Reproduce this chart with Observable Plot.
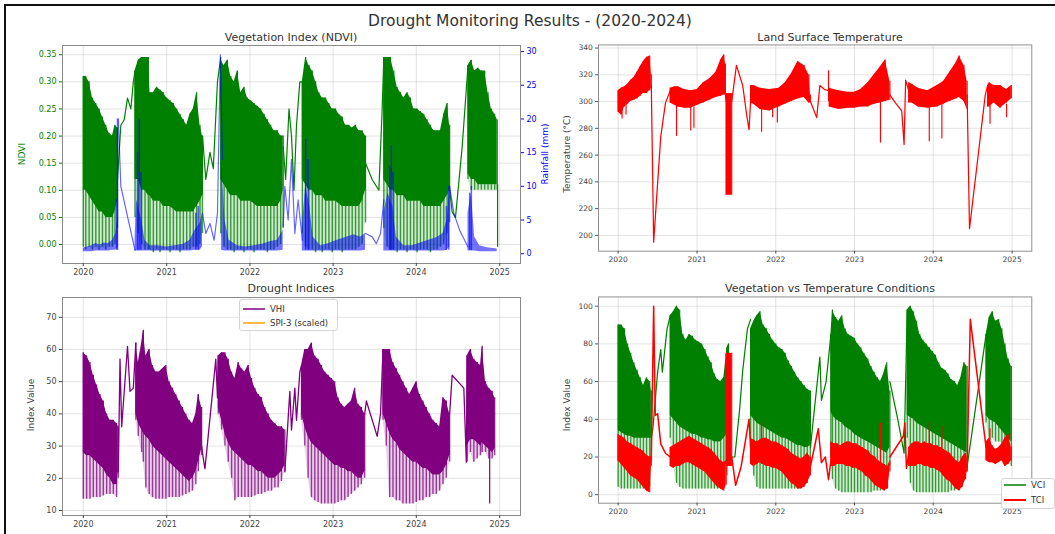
<!DOCTYPE html>
<html><head><meta charset="utf-8">
<script src="https://cdn.jsdelivr.net/npm/d3@7"></script>
<script src="https://cdn.jsdelivr.net/npm/@observablehq/plot@0.6"></script>
<style>
body{margin:0;background:#fff;}
#root{position:relative;width:1055px;height:534px;overflow:hidden;background:#fff;font-family:"DejaVu Sans",sans-serif;}
.abs{position:absolute;}
.title{position:absolute;transform:translate(-50%,-50%);white-space:nowrap;color:#333;}
.ylab{position:absolute;transform:translate(-50%,-50%) rotate(-90deg);white-space:nowrap;font-size:9px;color:#444;}
.leg{position:absolute;border:1px solid #d4d4d4;border-radius:3px;background:rgba(255,255,255,0.85);}
.legtxt{position:absolute;font-size:8.5px;color:#333;white-space:nowrap;transform:translateY(-50%);}
</style></head><body><div id="root"></div>
<script>
// ---------- tick labels ----------
const years = [2020, 2021, 2022, 2023, 2024, 2025];
const ndviTicks = [0, 0.05, 0.10, 0.15, 0.20, 0.25, 0.30, 0.35];
const rainTicks = [0, 5, 10, 15, 20, 25, 30];
const lstTicks = [200, 220, 240, 260, 280, 300, 320, 340];
const vhiTicks = [10, 20, 30, 40, 50, 60, 70];
const condTicks = [0, 20, 40, 60, 80, 100];

// ---------- NDVI: [year, spike floor, dense low, dense high] ----------
const ndviSegments = [
 [[2020.00,-0.005,0.10,0.31],[2020.03,-0.010,0.10,0.31],[2020.07,-0.005,0.09,0.30],[2020.11,-0.010,0.08,0.27],[2020.15,-0.005,0.07,0.26],[2020.19,-0.010,0.06,0.25],[2020.23,-0.005,0.06,0.235],[2020.27,-0.010,0.05,0.22],[2020.31,-0.005,0.05,0.205],[2020.35,-0.005,0.05,0.20],[2020.38,0.00,0.06,0.22],[2020.41,0.03,0.08,0.215]],
 [[2020.62,0.05,0.12,0.32],[2020.66,0.02,0.12,0.34],[2020.70,0.00,0.10,0.345],[2020.74,-0.010,0.10,0.345],[2020.78,-0.010,0.09,0.345],[2020.80,-0.010,0.09,0.28],[2020.84,-0.015,0.08,0.28],[2020.88,-0.010,0.08,0.29],[2020.92,-0.015,0.08,0.285],[2020.96,-0.010,0.07,0.28],[2021.00,-0.010,0.07,0.27],[2021.04,-0.015,0.07,0.265],[2021.08,-0.010,0.065,0.26],[2021.12,-0.010,0.06,0.25],[2021.16,-0.015,0.06,0.24],[2021.20,-0.010,0.06,0.23],[2021.24,-0.010,0.06,0.22],[2021.28,-0.010,0.06,0.24],[2021.32,-0.005,0.06,0.25],[2021.36,-0.005,0.07,0.28],[2021.40,0.00,0.08,0.22],[2021.43,0.02,0.09,0.20]],
 [[2021.65,0.02,0.12,0.34],[2021.69,-0.005,0.11,0.33],[2021.73,-0.010,0.10,0.34],[2021.77,-0.010,0.09,0.31],[2021.81,-0.015,0.09,0.30],[2021.85,-0.010,0.09,0.32],[2021.89,-0.010,0.08,0.28],[2021.93,-0.015,0.08,0.29],[2021.97,-0.010,0.08,0.27],[2022.01,-0.010,0.08,0.265],[2022.05,-0.015,0.075,0.26],[2022.09,-0.010,0.07,0.255],[2022.13,-0.010,0.07,0.25],[2022.17,-0.010,0.07,0.24],[2022.21,-0.015,0.07,0.23],[2022.25,-0.010,0.07,0.22],[2022.29,-0.010,0.07,0.21],[2022.33,-0.005,0.07,0.21],[2022.37,0.00,0.08,0.20],[2022.40,0.03,0.10,0.20]],
 [[2022.63,0.02,0.12,0.30],[2022.67,-0.005,0.11,0.345],[2022.71,-0.010,0.10,0.33],[2022.75,-0.010,0.10,0.32],[2022.79,-0.015,0.09,0.30],[2022.83,-0.010,0.09,0.28],[2022.87,-0.015,0.09,0.27],[2022.91,-0.010,0.08,0.27],[2022.95,-0.010,0.08,0.26],[2022.99,-0.015,0.08,0.25],[2023.03,-0.010,0.08,0.25],[2023.07,-0.010,0.075,0.24],[2023.11,-0.015,0.07,0.235],[2023.15,-0.010,0.07,0.22],[2023.19,-0.010,0.07,0.22],[2023.23,-0.010,0.07,0.215],[2023.27,-0.010,0.07,0.22],[2023.31,-0.005,0.07,0.21],[2023.35,0.00,0.08,0.21],[2023.39,0.04,0.10,0.20]],
 [[2023.61,0.03,0.12,0.345],[2023.65,-0.005,0.11,0.345],[2023.69,-0.010,0.10,0.345],[2023.73,-0.010,0.10,0.32],[2023.77,-0.015,0.09,0.29],[2023.81,-0.010,0.09,0.28],[2023.85,-0.010,0.09,0.27],[2023.89,-0.015,0.08,0.28],[2023.93,-0.010,0.08,0.27],[2023.97,-0.010,0.08,0.25],[2024.01,-0.015,0.08,0.25],[2024.05,-0.010,0.08,0.245],[2024.09,-0.010,0.07,0.24],[2024.13,-0.010,0.07,0.23],[2024.17,-0.015,0.07,0.22],[2024.21,-0.010,0.07,0.21],[2024.25,-0.010,0.07,0.21],[2024.29,-0.005,0.07,0.21],[2024.33,0.00,0.08,0.24],[2024.37,0.02,0.09,0.26],[2024.40,0.04,0.10,0.22]],
 [[2024.62,0.12,0.13,0.33],[2024.66,0.10,0.12,0.34],[2024.70,0.10,0.12,0.32],[2024.74,0.10,0.11,0.325],[2024.78,0.10,0.11,0.32],[2024.82,0.10,0.11,0.32],[2024.86,0.10,0.11,0.28],[2024.90,0.10,0.11,0.25],[2024.94,0.10,0.11,0.24],[2024.97,0.10,0.11,0.23]]
];
const ndviGaps = [
 [[2020.41,0.12],[2020.45,0.22],[2020.49,0.23],[2020.53,0.27],[2020.57,0.25],[2020.60,0.30],[2020.62,0.32]],
 [[2021.43,0.20],[2021.47,0.12],[2021.52,0.17],[2021.56,0.14],[2021.61,0.30],[2021.65,0.345]],
 [[2022.40,0.18],[2022.43,0.12],[2022.47,0.25],[2022.50,0.20],[2022.53,0.10],[2022.56,0.22],[2022.60,0.30],[2022.63,0.30]],
 [[2023.39,0.15],[2023.47,0.12],[2023.55,0.10],[2023.59,0.25],[2023.61,0.345]],
 [[2024.40,0.10],[2024.43,0.06],[2024.47,0.05],[2024.55,0.18],[2024.62,0.33]]
];
const ndviSpikes = [[2024.975,-0.005,0.11]];

// ---------- Rainfall (mm): [year, low, high] ----------
const rainSegments = [
 [[2020.00,0.3,0.8],[2020.05,0.3,1.0],[2020.10,0.3,1.2],[2020.15,0.4,1.5],[2020.20,0.4,1.3],[2020.25,0.4,1.6],[2020.30,0.4,1.5],[2020.35,0.5,2.0],[2020.39,0.5,3.0],[2020.42,1,6]],
 [[2020.62,0.4,2],[2020.64,0.4,8],[2020.70,0.4,5],[2020.74,0.4,2],[2020.80,0.4,1.2],[2020.90,0.4,1.2],[2021.00,0.4,1.0],[2021.10,0.4,1.2],[2021.20,0.4,1.4],[2021.28,0.4,2.0],[2021.34,0.5,3.5],[2021.40,0.5,4.5],[2021.43,1,6]],
 [[2021.66,0.5,14],[2021.70,0.4,5],[2021.75,0.4,2],[2021.85,0.4,1.2],[2021.95,0.4,1.0],[2022.05,0.4,1.2],[2022.15,0.4,1.4],[2022.25,0.4,1.8],[2022.33,0.4,2.0],[2022.40,0.5,3.5]],
 [[2022.63,0.4,4],[2022.67,0.4,10],[2022.72,0.4,7],[2022.76,0.4,2.5],[2022.85,0.4,1.2],[2022.95,0.4,1.5],[2023.05,0.4,2.0],[2023.15,0.4,2.4],[2023.25,0.4,2.8],[2023.33,0.4,2.5],[2023.39,0.5,3]],
 [[2023.61,0.4,6],[2023.66,0.4,9],[2023.72,0.4,7],[2023.76,0.4,2.5],[2023.85,0.4,1.2],[2023.95,0.4,1.2],[2024.05,0.4,1.6],[2024.15,0.4,2.0],[2024.25,0.4,2.4],[2024.32,0.4,3],[2024.37,0.5,5],[2024.40,1,10]],
 [[2024.62,0.4,6],[2024.66,0.4,9],[2024.70,0.4,2.5],[2024.76,0.3,1.2],[2024.85,0.3,0.9],[2024.97,0.3,0.7]]
];
const rainGaps = [
 [[2020.42,20],[2020.45,10],[2020.62,0.5]],
 [[2021.43,6],[2021.47,3],[2021.52,4.5],[2021.57,2],[2021.61,6],[2021.645,29.5],[2021.67,14]],
 [[2022.40,4],[2022.42,10],[2022.46,5],[2022.50,14],[2022.54,3],[2022.58,8],[2022.63,2]],
 [[2023.39,3],[2023.47,2.5],[2023.52,1.5],[2023.57,3],[2023.61,8]],
 [[2024.40,10],[2024.45,6],[2024.52,3.5],[2024.62,1]]
];
const rainSpikes = [[2020.40,0.5,8],[2020.41,0.5,20],[2020.65,0.5,15],[2020.67,0.5,20],[2020.69,0.5,12],[2021.35,0.5,6],[2021.38,0.5,7],[2022.67,0.5,17],[2022.70,0.5,14],[2023.68,0.5,13],[2023.70,0.5,16],[2023.72,0.5,12],[2024.36,0.5,7],[2024.39,0.5,10],[2024.64,0.5,9],[2024.66,0.5,10]];

// ---------- Land surface temperature: [year, low, high] ----------
const lstSegments = [
 [[2020.00,292,308],[2020.04,290,310],[2020.08,296,311],[2020.12,298,313],[2020.16,300,316],[2020.20,301,318],[2020.24,302,322],[2020.28,304,326],[2020.32,306,330],[2020.36,306,333],[2020.40,308,334],[2020.42,310,320]],
 [[2020.66,299,310],[2020.72,297,311],[2020.76,296,311],[2020.84,295,309],[2020.92,295,308],[2021.00,297,309],[2021.08,299,314],[2021.16,301,317],[2021.24,303,322],[2021.30,304,331],[2021.34,305,335],[2021.36,305,328]],
 [[2021.37,230,306],[2021.44,230,306]],
 [[2021.68,299,312],[2021.72,298,312],[2021.80,294,310],[2021.92,293,309],[2022.04,296,310],[2022.12,298,314],[2022.20,300,321],[2022.28,302,330],[2022.36,303,327],[2022.42,299,320],[2022.44,299,305]],
 [[2022.68,296,310],[2022.80,294,308],[2022.92,295,307],[2023.00,295,307],[2023.08,296,309],[2023.17,296,314],[2023.25,298,320],[2023.33,299,326],[2023.39,300,331],[2023.45,301,315]],
 [[2023.69,299,314],[2023.73,299,313],[2023.81,296,310],[2023.93,295,308],[2024.05,296,312],[2024.13,298,315],[2024.21,300,322],[2024.29,302,329],[2024.33,303,334],[2024.39,300,327],[2024.43,294,315]],
 [[2024.69,296,312],[2024.71,296,314],[2024.77,299,312],[2024.85,295,312],[2024.93,299,309],[2024.99,302,312]]
];
const lstGaps = [
 [[2020.42,312],[2020.45,195],[2020.54,274],[2020.60,299],[2020.66,308]],
 [[2021.36,305],[2021.37,300]],
 [[2021.44,300],[2021.50,327],[2021.58,312],[2021.63,290],[2021.66,279],[2021.68,300]],
 [[2022.44,300],[2022.52,288],[2022.56,312],[2022.62,309],[2022.68,308]],
 [[2023.45,305],[2023.52,299],[2023.60,293],[2023.63,268],[2023.65,316],[2023.69,308]],
 [[2024.43,305],[2024.46,205],[2024.66,305],[2024.69,312]]
];
const lstSpikes = [[2020.05,287,300],[2020.10,290,300],[2020.74,274,298],[2020.92,278,296],[2020.96,280,296],[2021.82,277,298],[2021.96,288,297],[2022.02,284,297],[2022.67,300,323],[2023.33,269,300],[2023.95,270,297],[2024.11,272,298],[2024.72,283,298],[2024.93,288,298]];

// ---------- VHI: [year, spike floor, dense low, dense high] ----------
const vhiSegments = [
 [[2020.00,13.5,28,59],[2020.04,13.5,27,58],[2020.08,13.5,27,56],[2020.12,14,26,52],[2020.16,14,25,49],[2020.20,14,24,46],[2020.24,14.5,23,44],[2020.28,15,21,40],[2020.32,15,20,38],[2020.36,15,18,38],[2020.40,14,18,37],[2020.42,20,22,36]],
 [[2020.63,38,40,62],[2020.66,33,37,56],[2020.70,28,35,62],[2020.72,25,34,66],[2020.75,17,33,58],[2020.79,15,32,60],[2020.83,14,30,55],[2020.87,13.5,29,53],[2020.91,13.5,28,53],[2020.95,13.5,27,54],[2020.99,13.5,26,55],[2021.03,14,25,50],[2021.07,14,24,48],[2021.11,14,23,46],[2021.15,14,22,44],[2021.19,14.5,21,42],[2021.23,15,20,40],[2021.27,15.5,19,38],[2021.31,16,20,37],[2021.35,18,22,40],[2021.38,22,25,46],[2021.42,27,29,42]],
 [[2021.62,40,42,58],[2021.66,35,38,59],[2021.70,30,34,59],[2021.74,25,31,57],[2021.78,20,29,53],[2021.82,13,28,51],[2021.86,14,27,56],[2021.90,14,26,54],[2021.94,14,25,53],[2021.98,14,24,55],[2022.02,14,24,51],[2022.06,14.5,23,48],[2022.10,15,22,46],[2022.14,15,22,45],[2022.18,15.5,21,42],[2022.22,16,20,40],[2022.26,16,20,38],[2022.30,17,20,37],[2022.34,17,21,36],[2022.38,19,22,36],[2022.42,22,24,35]],
 [[2022.62,38,40,55],[2022.66,30,36,60],[2022.70,20,33,60],[2022.74,14,31,62],[2022.78,13,30,58],[2022.82,12.5,29,57],[2022.86,12,28,55],[2022.90,12,27,53],[2022.94,12,26,52],[2022.98,12,25,51],[2023.02,12,24,50],[2023.06,12.5,24,45],[2023.10,13,23,43],[2023.14,13,23,42],[2023.18,14,22,43],[2023.22,15,22,44],[2023.26,16,21,48],[2023.30,17,20,43],[2023.34,18,20,42],[2023.38,20,22,40]],
 [[2023.60,38,40,60],[2023.64,30,37,60],[2023.68,14,34,60],[2023.72,14,32,56],[2023.76,13,31,54],[2023.80,13,29,52],[2023.84,12,28,50],[2023.88,12,27,48],[2023.92,12,26,46],[2023.96,12,25,48],[2024.00,12.5,25,50],[2024.04,13,24,46],[2024.08,13,23,44],[2024.12,14,23,42],[2024.16,14,22,40],[2024.20,15,21,38],[2024.24,15,21,37],[2024.28,16,21,36],[2024.32,18,22,45],[2024.36,20,24,44],[2024.40,25,27,40]],
 [[2024.61,25,30,58],[2024.65,28,32,60],[2024.69,25,32,57],[2024.73,26,31,56],[2024.77,27,30,55],[2024.79,28,31,61],[2024.83,28,30,50],[2024.87,26,29,48],[2024.91,26,28,47],[2024.94,27,29,45]]
];
const vhiGaps = [
 [[2020.42,22],[2020.44,57],[2020.46,36],[2020.53,61],[2020.56,47],[2020.60,48],[2020.63,62]],
 [[2021.42,30],[2021.44,26],[2021.46,23],[2021.59,57],[2021.61,45],[2021.62,58]],
 [[2022.42,22],[2022.48,47],[2022.50,35],[2022.54,48],[2022.56,38],[2022.60,53],[2022.62,55]],
 [[2023.38,40],[2023.40,44],[2023.53,33],[2023.57,40],[2023.60,60]],
 [[2024.40,40],[2024.43,52],[2024.57,48],[2024.60,25],[2024.61,58]]
];
const vhiSpikes = [[2024.88,12,29]];

// ---------- VCI: [year, spike floor, dense low, dense high] ----------
const vciSegments = [
 [[2020.00,4,34,90],[2020.04,3,33,90],[2020.08,3,32,88],[2020.12,3,31,80],[2020.16,3,31,75],[2020.20,3,30,70],[2020.24,3,30,66],[2020.28,3,30,62],[2020.32,3,30,58],[2020.36,3,30,62],[2020.40,4,30,60],[2020.42,20,30,55]],
 [[2020.66,30,42,95],[2020.70,15,40,97],[2020.74,6,38,100],[2020.78,4,36,98],[2020.82,3,35,85],[2020.86,3,34,82],[2020.90,3,33,85],[2020.94,3,32,84],[2020.98,3,32,82],[2021.02,3,31,81],[2021.06,3,30,80],[2021.10,3,30,77],[2021.14,3,29,73],[2021.18,3,29,70],[2021.22,3,28,64],[2021.26,3,28,61],[2021.30,3,28,60],[2021.34,4,30,62],[2021.38,10,32,78],[2021.40,15,35,80]],
 [[2021.68,25,42,88],[2021.72,10,40,92],[2021.76,4,38,95],[2021.80,3,37,97],[2021.84,3,36,90],[2021.88,3,35,88],[2021.92,3,34,85],[2021.96,3,33,82],[2022.00,3,32,80],[2022.04,3,31,78],[2022.08,3,30,77],[2022.12,3,30,75],[2022.16,3,29,71],[2022.20,3,28,68],[2022.24,3,27,65],[2022.28,3,26,62],[2022.32,4,26,60],[2022.36,5,25,58],[2022.40,8,25,56],[2022.44,20,26,55]],
 [[2022.70,20,44,85],[2022.72,8,42,98],[2022.76,3,40,94],[2022.80,2,39,92],[2022.84,1,38,95],[2022.88,1,36,88],[2022.92,1,35,85],[2022.96,1,34,84],[2023.00,1,32,83],[2023.04,1,31,80],[2023.08,1,30,78],[2023.12,1,29,75],[2023.17,1,28,72],[2023.21,1,27,68],[2023.25,2,26,65],[2023.29,2,25,62],[2023.33,2,24,60],[2023.37,3,23,64],[2023.41,5,22,70],[2023.45,15,25,55]],
 [[2023.67,30,42,98],[2023.71,6,41,100],[2023.75,2,40,97],[2023.79,1,38,92],[2023.83,1,37,85],[2023.87,1,36,82],[2023.91,1,35,80],[2023.95,1,34,78],[2023.99,1,33,76],[2024.03,1,32,74],[2024.07,1,31,70],[2024.11,1,30,67],[2024.15,1,29,66],[2024.19,1,28,64],[2024.23,2,27,61],[2024.27,2,26,60],[2024.31,3,25,58],[2024.35,4,24,62],[2024.39,8,23,70],[2024.43,12,22,68]],
 [[2024.67,38,42,85],[2024.71,30,40,94],[2024.75,30,39,97],[2024.79,28,38,92],[2024.83,28,36,93],[2024.87,27,34,88],[2024.91,25,32,80],[2024.95,20,30,72],[2024.99,15,28,68]]
];
const vciGaps = [
 [[2020.42,30],[2020.44,35],[2020.50,65],[2020.54,77],[2020.56,65],[2020.62,88],[2020.66,95]],
 [[2021.40,20],[2021.48,20],[2021.54,45],[2021.58,66],[2021.64,88],[2021.68,93]],
 [[2022.44,25],[2022.56,73],[2022.58,50],[2022.64,60],[2022.70,85]],
 [[2023.45,60],[2023.55,40],[2023.63,22],[2023.65,60],[2023.67,98]],
 [[2024.43,15],[2024.67,85]]
];

// ---------- TCI: [year, low, high] ----------
const tciSegments = [
 [[2020.00,18,32],[2020.04,16,31],[2020.08,14,30],[2020.12,12,28],[2020.16,10,27],[2020.20,9,26],[2020.24,8,25],[2020.28,6,24],[2020.32,4,23],[2020.36,2,21],[2020.40,1,20],[2020.42,15,20]],
 [[2020.66,15,25],[2020.70,14,26],[2020.74,15,27],[2020.78,15,28],[2020.82,16,29],[2020.86,17,30],[2020.90,17,31],[2020.94,16,30],[2020.98,15,29],[2021.02,14,28],[2021.06,13,27],[2021.10,12,26],[2021.14,10,25],[2021.18,8,24],[2021.22,6,22],[2021.26,4,20],[2021.30,3,18],[2021.34,2,17],[2021.37,5,18]],
 [[2021.37,15,75],[2021.44,15,75]],
 [[2021.68,16,30],[2021.72,15,29],[2021.76,16,28],[2021.80,17,29],[2021.84,16,30],[2021.88,15,30],[2021.92,15,29],[2021.96,14,28],[2022.00,14,28],[2022.04,13,27],[2022.08,12,26],[2022.12,10,25],[2022.16,8,24],[2022.20,6,22],[2022.24,5,21],[2022.28,3,20],[2022.32,3,19],[2022.36,4,20],[2022.40,6,22],[2022.44,10,20]],
 [[2022.70,15,28],[2022.74,15,27],[2022.78,16,27],[2022.82,16,26],[2022.86,16,27],[2022.90,15,28],[2022.94,15,28],[2022.98,14,27],[2023.02,14,27],[2023.06,13,26],[2023.10,12,25],[2023.14,10,24],[2023.18,9,23],[2023.22,7,21],[2023.26,5,20],[2023.30,4,18],[2023.34,3,17],[2023.38,2,16],[2023.42,3,15],[2023.45,12,18]],
 [[2023.69,15,25],[2023.73,15,27],[2023.77,15,28],[2023.81,16,28],[2023.85,16,27],[2023.89,15,28],[2023.93,15,27],[2023.97,14,27],[2024.01,14,26],[2024.05,13,26],[2024.09,12,25],[2024.13,10,24],[2024.17,8,23],[2024.21,7,22],[2024.25,5,20],[2024.29,3,18],[2024.33,2,17],[2024.37,4,20],[2024.41,8,22],[2024.43,12,20]],
 [[2024.67,18,28],[2024.71,17,30],[2024.75,17,26],[2024.79,16,24],[2024.83,17,25],[2024.87,18,27],[2024.91,15,30],[2024.95,16,32],[2024.99,18,25]]
];
const tciGaps = [
 [[2020.42,18],[2020.45,100],[2020.47,42],[2020.50,43],[2020.54,27],[2020.60,22],[2020.66,20]],
 [[2021.44,20],[2021.49,5],[2021.56,15],[2021.62,30],[2021.66,40],[2021.68,25]],
 [[2022.44,15],[2022.54,35],[2022.58,17],[2022.63,20],[2022.67,8],[2022.70,18]],
 [[2023.45,20],[2023.62,31],[2023.64,38],[2023.66,14],[2023.69,22]],
 [[2024.43,14],[2024.47,93],[2024.67,25]]
];
const tciSpikes = [[2021.82,16,38],[2023.33,17,38],[2023.95,15,38],[2024.11,14,36],[2024.72,18,35]];

// ---------- helpers ----------
function dy(y){const yr=Math.floor(y+1e-9);const s=Date.UTC(yr,0,1),e=Date.UTC(yr+1,0,1);return new Date(s+(y-yr)*(e-s));}
function bandRows(segs){return segs.flatMap((seg,i)=>seg.map(r=>r.length>3?{t:dy(r[0]),f:r[1],lo:r[2],hi:r[3],s:i}:{t:dy(r[0]),f:r[1],lo:r[1],hi:r[2],s:i}));}
function lineRows(segs){return segs.flatMap((seg,i)=>seg.map(([t,v])=>({t:dy(t),v,s:i})));}
function spikeRows(arr){return arr.map(([t,a,b])=>({t:dy(t),a,b}));}
const xTicks = years.map(y=>dy(y));
const X_DOMAIN = [dy(2019.75), dy(2025.25)];
const FW = 458; // frame width

function makePlot({ml, mr, yDomain, yTicks, yFmt, yColor="#444", yAnchor="left", marks, showX=true, showGrid=true, showFrame=true}){
  return Plot.plot({
    width: ml+FW+mr, height: 253,
    marginTop: 10, marginBottom: 25, marginLeft: ml, marginRight: mr,
    style: {fontFamily: "DejaVu Sans, sans-serif", fontSize: "8px", background: "transparent", overflow: "visible"},
    x: {type: "utc", domain: X_DOMAIN, axis: null},
    y: {domain: yDomain, axis: null},
    marks: [
      showGrid ? Plot.gridX(xTicks, {stroke: "#999", strokeOpacity: 0.28}) : null,
      showGrid ? Plot.gridY(yTicks, {stroke: "#999", strokeOpacity: 0.28}) : null,
      ...marks,
      showFrame ? Plot.frame({stroke: "#8a8a8a"}) : null,
      showX ? Plot.axisX(xTicks, {tickFormat: d3.utcFormat("%Y"), tickSize: 3, tickPadding: 3, color: "#444", label: null}) : null,
      Plot.axisY(yTicks, {anchor: yAnchor, tickFormat: yFmt, tickSize: 3, tickPadding: 3, color: yColor, label: null})
    ]
  });
}
// dense band (area) + per-sample drop lines down to the spike floor + gap connectors
function bandMarks(segs, gaps, spikes, color, fringe, lineW){
  const rows = bandRows(segs);
  const m = [];
  if (fringe) {
    m.push(Plot.areaY(rows, {x:"t", y1:"f", y2:"lo", z:"s", fill: color, fillOpacity: 0.18}));
    m.push(Plot.ruleX(rows, {x:"t", y1:"f", y2:"lo", stroke: color, strokeWidth: 1.4, strokeOpacity: 0.75}));
  }
  m.push(Plot.areaY(rows, {x:"t", y1:"lo", y2:"hi", z:"s", fill: color}));
  m.push(Plot.ruleX(rows, {x:"t", y1:"lo", y2:"hi", stroke: color, strokeWidth: 1.2}));
  if (gaps) m.push(Plot.line(lineRows(gaps), {x:"t", y:"v", z:"s", stroke: color, strokeWidth: lineW}));
  if (spikes) m.push(Plot.ruleX(spikeRows(spikes), {x:"t", y1:"a", y2:"b", stroke: color, strokeWidth: 1.2}));
  return m;
}

const root = document.getElementById("root");
function place(el, left, top){const d=document.createElement("div");d.className="abs";d.style.left=left+"px";d.style.top=top+"px";d.appendChild(el);root.appendChild(d);return d;}
function text(cls, str, left, top, size, color){const d=document.createElement("div");d.className=cls;d.textContent=str;d.style.left=left+"px";d.style.top=top+"px";if(size)d.style.fontSize=size+"px";if(color)d.style.color=color;root.appendChild(d);return d;}

// outer frame
const fr=document.createElement("div");fr.className="abs";fr.style.cssText="left:4px;top:4px;width:1100px;height:600px;border:2px solid #111;";root.appendChild(fr);

// Top-left: NDVI + rainfall (twin axis)
place(makePlot({ml:62, mr:25, yDomain:[-0.035,0.367], yTicks:ndviTicks, yFmt:d3.format(".2f"), yColor:"green",
  marks: bandMarks(ndviSegments, ndviGaps, ndviSpikes, "green", true, 1.2)}), 0, 35);
place(makePlot({ml:62, mr:25, yDomain:[-1.45,30.9], yTicks:rainTicks, yFmt:d3.format("d"), yColor:"blue", yAnchor:"right", showX:false, showGrid:false, showFrame:false,
  marks: [
    Plot.areaY(bandRows(rainSegments), {x:"t", y1:"lo", y2:"hi", z:"s", fill:"blue", fillOpacity:0.55}),
    Plot.line(lineRows(rainGaps), {x:"t", y:"v", z:"s", stroke:"blue", strokeOpacity:0.6, strokeWidth:1.2}),
    Plot.ruleX(spikeRows(rainSpikes), {x:"t", y1:"a", y2:"b", stroke:"blue", strokeOpacity:0.6, strokeWidth:1.5})
  ]}), 0, 35);

// Top-right: LST
place(makePlot({ml:56, mr:25, yDomain:[188.2,342.3], yTicks:lstTicks, yFmt:d3.format("d"),
  marks: bandMarks(lstSegments, lstGaps, lstSpikes, "red", false, 1.3)}), 545, 35);

// Bottom-left: VHI
place(makePlot({ml:62, mr:25, yDomain:[8.44,76.15], yTicks:vhiTicks, yFmt:d3.format("d"),
  marks: bandMarks(vhiSegments, vhiGaps, vhiSpikes, "purple", true, 1.3)}), 0, 287);

// Bottom-right: VCI & TCI
place(makePlot({ml:56, mr:25, yDomain:[-4.5,104.9], yTicks:condTicks, yFmt:d3.format("d"),
  marks: [...bandMarks(vciSegments, vciGaps, null, "green", true, 1.3), ...bandMarks(tciSegments, tciGaps, tciSpikes, "red", false, 1.6)]}), 545, 287);

// titles
text("title", "Drought Monitoring Results - (2020-2024)", 530, 21, 15.5, "#333");
text("title", "Vegetation Index (NDVI)", 291, 37, 11, "#333");
text("title", "Land Surface Temperature", 830, 37, 11, "#333");
text("title", "Drought Indices", 291, 288, 11, "#333");
text("title", "Vegetation vs Temperature Conditions", 830, 288, 11, "#333");
// axis labels
text("ylab", "NDVI", 22, 154, 9, "green");
text("ylab", "Rainfall (mm)", 545, 154, 9, "blue");
text("ylab", "Temperature (°C)", 567, 154, 9, "#444");
text("ylab", "Index Value", 31, 405, 9, "#444");
text("ylab", "Index Value", 567, 405, 9, "#444");

// legends
function legend(left, top, w, h, items){
  const b=document.createElement("div");b.className="leg";b.style.left=left+"px";b.style.top=top+"px";b.style.width=w+"px";b.style.height=h+"px";root.appendChild(b);
  items.forEach(it=>{
    const s=document.createElementNS("http://www.w3.org/2000/svg","svg");s.setAttribute("width",24);s.setAttribute("height",6);
    s.style.cssText=`position:absolute;left:${it.x}px;top:${it.y-3}px;`;
    const l=document.createElementNS("http://www.w3.org/2000/svg","line");l.setAttribute("x1",1);l.setAttribute("x2",23);l.setAttribute("y1",3);l.setAttribute("y2",3);l.setAttribute("stroke",it.color);l.setAttribute("stroke-width",it.w);
    s.appendChild(l);root.appendChild(s);
    const t=document.createElement("div");t.className="legtxt";t.textContent=it.label;t.style.left=(it.x+28)+"px";t.style.top=it.y+"px";root.appendChild(t);
  });
}
legend(239, 299, 97, 30, [{label:"VHI", color:"purple", w:1.5, x:242, y:309},{label:"SPI-3 (scaled)", color:"orange", w:1.5, x:242, y:323}]);
legend(1001, 478, 52, 29, [{label:"VCI", color:"green", w:1.5, x:1003, y:485},{label:"TCI", color:"red", w:2, x:1003, y:500}]);
</script></body></html>
